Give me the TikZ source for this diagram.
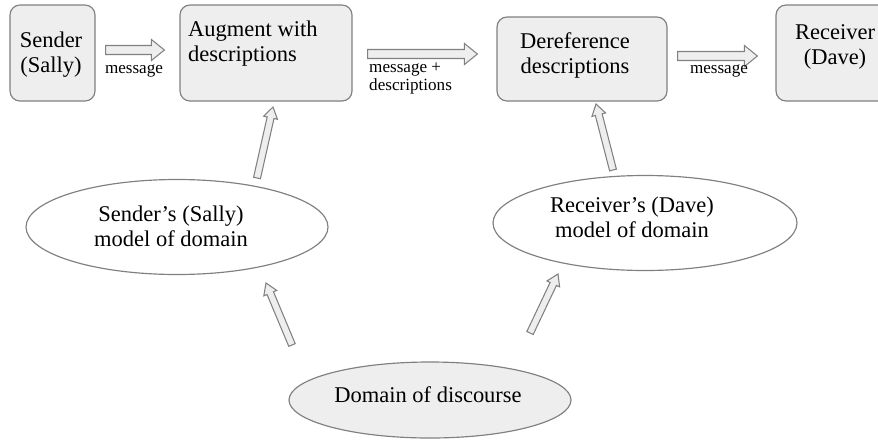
\documentclass[tikz,border=0pt]{standalone}
\usepackage{fontspec}
\setmainfont{Liberation Serif}
\usetikzlibrary{calc,shapes.geometric}

\definecolor{shade}{HTML}{EEEEEE}
\definecolor{edge}{HTML}{808080}

\tikzset{
  box/.style={draw=edge, fill=shade, line width=1pt, rounded corners=0.3cm, inner sep=0pt},
  oval/.style={ellipse, draw=edge, line width=1pt, inner sep=0pt},
  txt/.style={font=\fontsize{19.2pt}{21.3pt}\selectfont, inner sep=0pt},
  lbl/.style={font=\fontsize{14.6pt}{15.4pt}\selectfont, inner sep=0pt},
  fat/.style={draw=edge, fill=shade, line width=0.9pt},
}

% hollow block arrow: tail, tip, half shaft, half head, head length
\newcommand{\fatarrow}[5]{%
  \coordinate (neck) at ($(#2)!#5!(#1)$);
  \filldraw[fat] ($(#1)!#3!90:(#2)$) -- ($(neck)!#3!90:(#2)$) -- ($(neck)!#4!90:(#2)$)
    -- (#2) -- ($(neck)!#4!-90:(#2)$) -- ($(neck)!#3!-90:(#2)$) -- ($(#1)!#3!-90:(#2)$) -- cycle;}

\begin{document}
\begin{tikzpicture}[x=0.03cm, y=-0.03cm]
  \useasboundingbox (0,0) rectangle (878,441);

  %boxes
  \node[box, minimum width=2.55cm, minimum height=2.88cm] (send) at (52.5,53) {};
  \node[box, minimum width=5.16cm, minimum height=2.88cm] (aug) at (266,53) {};
  \node[box, minimum width=5.1cm, minimum height=2.52cm] (deref) at (582,59) {};
  \node[box, minimum width=3.54cm, minimum height=2.88cm] (recv) at (835,53) {};

  %ellipses
  \node[oval, fill=white, minimum width=9.06cm, minimum height=2.85cm] (smodel) at (177,227) {};
  \node[oval, fill=white, minimum width=9.12cm, minimum height=2.85cm] (rmodel) at (645,223) {};
  \node[oval, fill=shade, minimum width=8.46cm, minimum height=2.28cm] (domain) at (430,400) {};

  %texts
  \node[txt, align=center, anchor=north] (sendtxt) at (51,31.5) {Sender\\(Sally)};
  \node[txt, align=left, anchor=north west] (augtxt) at (188,21) {Augment with\\descriptions};
  \node[txt, align=center, anchor=north] (dereftxt) at (575,32) {Dereference\\descriptions};
  \node[txt, align=center, anchor=north] (recvtxt) at (835,24) {Receiver\\(Dave)};
  \node[txt, align=center, anchor=north] (smodeltxt) at (171,206) {Sender's (Sally)\\model of domain};
  \node[txt, align=center, anchor=north] (rmodeltxt) at (632,197) {Receiver's (Dave)\\model of domain};
  \node[txt, anchor=north] (domaintxt) at (428,386) {Domain of discourse};

  %arrow ends
  \coordinate (m1s) at ($(send.east)+(10,-3)$);
  \coordinate (m1e) at ($(aug.west)+(-15,-3)$);
  \coordinate (m2s) at ($(aug.east)+(15,1)$);
  \coordinate (m2e) at ($(deref.west)+(-19,-5)$);
  \coordinate (m3s) at ($(deref.east)+(10,-3)$);
  \coordinate (m3e) at ($(recv.west)+(-18,3)$);
  \coordinate (u1s) at ($(smodel)+(80,-49)$);
  \coordinate (u1e) at ($(aug)+(7,54)$);
  \coordinate (u2s) at ($(domain)+(-138,-55)$);
  \coordinate (u2e) at ($(smodel)+(89,56)$);
  \coordinate (u3s) at ($(domain)+(100,-67)$);
  \coordinate (u3e) at ($(rmodel)+(-87,51)$);
  \coordinate (u4s) at ($(rmodel)+(-32,-53)$);
  \coordinate (u4e) at ($(deref)+(14,45)$);

  %arrows
  \fatarrow{m1s}{m1e}{0.135cm}{0.315cm}{0.39cm}
  \fatarrow{m2s}{m2e}{0.135cm}{0.315cm}{0.39cm}
  \fatarrow{m3s}{m3e}{0.135cm}{0.315cm}{0.39cm}
  \fatarrow{u1s}{u1e}{0.105cm}{0.21cm}{0.33cm}
  \fatarrow{u2s}{u2e}{0.105cm}{0.21cm}{0.33cm}
  \fatarrow{u3s}{u3e}{0.105cm}{0.21cm}{0.33cm}
  \fatarrow{u4s}{u4e}{0.105cm}{0.21cm}{0.33cm}

  %arrow labels
  \node[lbl, anchor=base] (msg1) at (134,73) {message};
  \node[lbl, align=left, anchor=north west] (msg2) at (369,63) {message +\\descriptions};
  \node[lbl, anchor=base] (msg3) at (719,73) {message};
\end{tikzpicture}
\end{document}
